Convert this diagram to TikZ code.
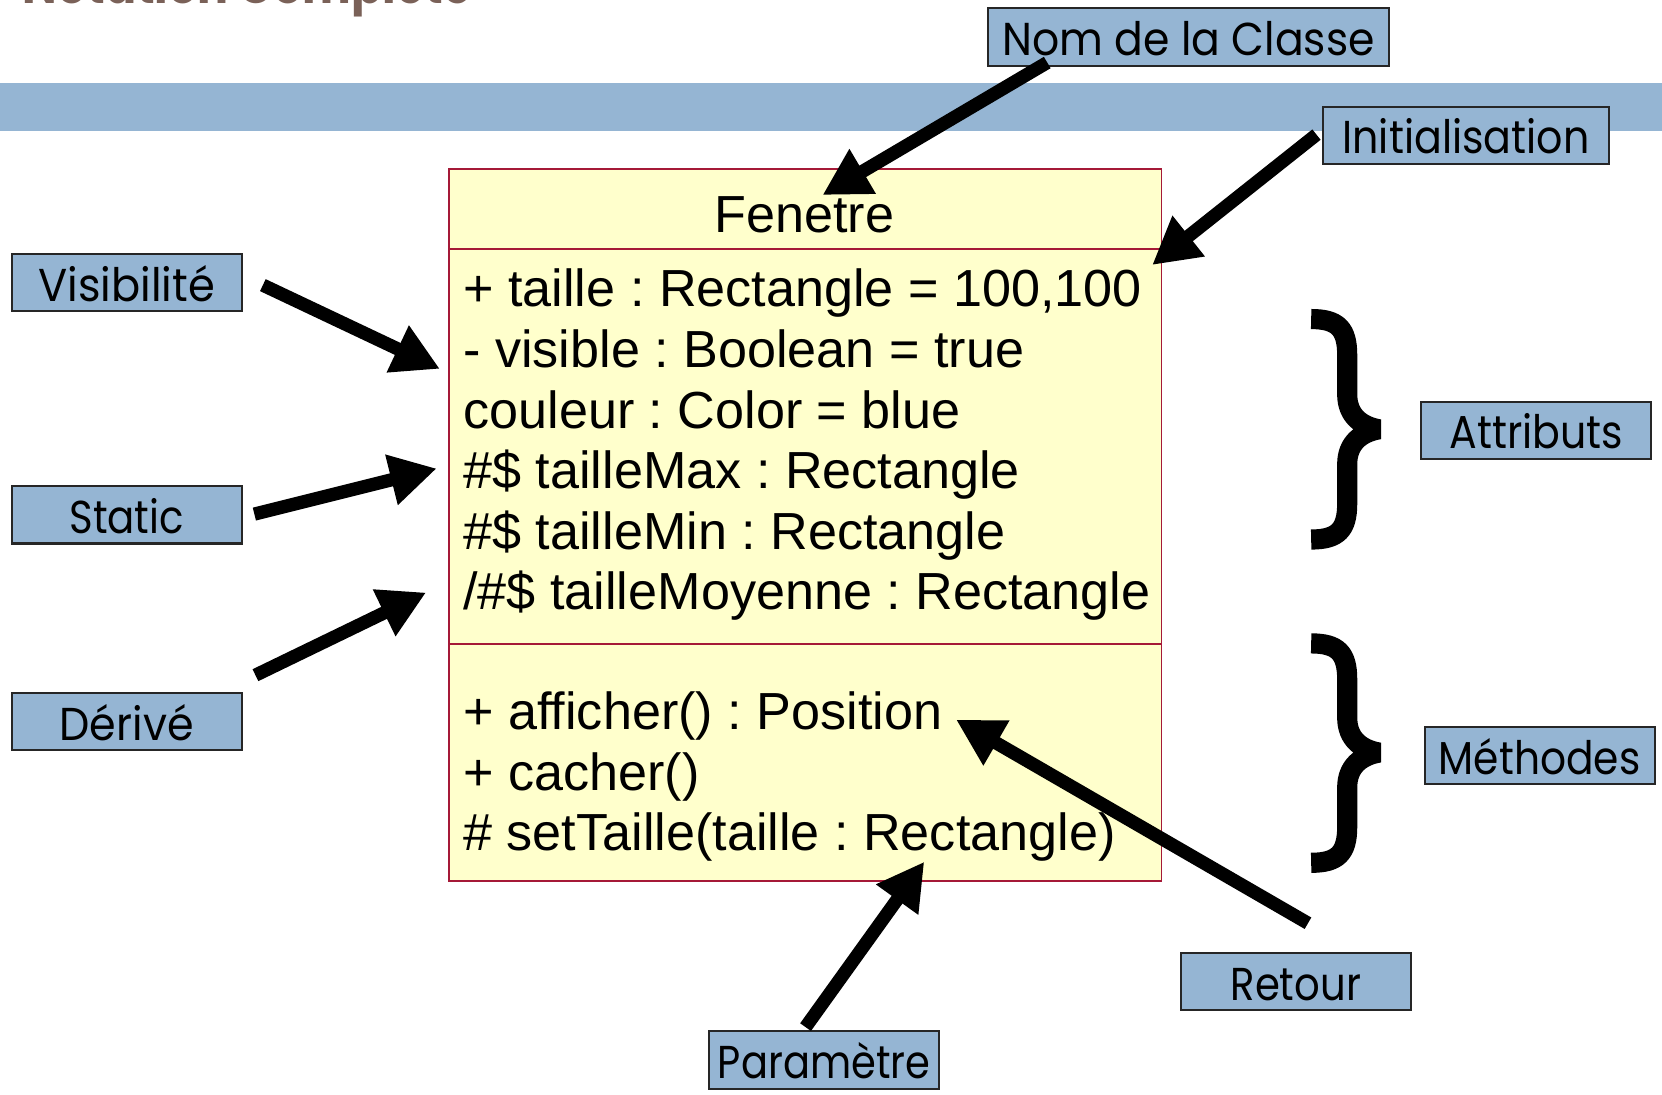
\documentclass[tikz,border=0pt]{standalone}
\usepackage{fontspec}
\usepackage{graphicx}
\setmainfont{Liberation Sans}
\newfontfamily\labfont{Poppins}
\usetikzlibrary{arrows.meta}
\definecolor{bandblue}{RGB}{149,181,211}
\definecolor{classfill}{RGB}{255,255,204}
\definecolor{classline}{RGB}{165,25,55}
\definecolor{titlecol}{RGB}{122,97,88}
\newcommand\fitw[2]{\resizebox{#1pt}{\height}{#2}}
\frenchspacing
\begin{document}
\begin{tikzpicture}[x=1pt,y=-1pt,
  lbl/.style={draw=black!85, line width=2pt, fill=bandblue, inner sep=0pt,
    minimum width=217pt, text height=44.5pt, text depth=9.5pt, anchor=north west,
    font=\labfont\fontsize{43.5}{50}\selectfont},
  ptr/.style={line width=12.5pt, -{Triangle[length=44pt,width=46pt]}},
  brc/.style={line width=19pt, line join=bevel},
  attr/.style={anchor=base west, inner sep=0pt, font=\frenchspacing\fontsize{49.2}{57.2}\selectfont}]
\useasboundingbox (0,0) rectangle (1568,1033);
\fill[white] (0,0) rectangle (1568,1033);
% title fragment
\begin{scope}
\clip (0,0) rectangle (1568,1033);
\node[anchor=base west, inner sep=0pt, text=titlecol, font=\labfont\bfseries\fontsize{48}{54}\selectfont] (title) at (21,3.5) {\fitw{424}{Notation Complète}};
\end{scope}
% band
\fill[bandblue] (0,78) rectangle (1568,123.3);
% class box
\node[draw=classline, fill=classfill, line width=1.5pt, minimum width=672pt, minimum height=672pt, anchor=north west, inner sep=0pt] (cls) at (423,158.5) {};
\draw[classline, line width=1.5pt] (423,235) -- (1095,235);
\draw[classline, line width=1.5pt] (423,607.5) -- (1095,607.5);
\node[anchor=base, inner sep=0pt, font=\fontsize{49.2}{57.2}\selectfont] (cname) at (759,219.5) {Fenetre};
\node[attr] (a1) at (437,289.4) {+ taille : Rectangle = 100,100};
\node[attr] (a2) at (437,346.6) {- visible : Boolean = true};
\node[attr] (a3) at (437,403.8) {couleur : Color = blue};
\node[attr] (a4) at (437,461.0) {\#\$ tailleMax : Rectangle};
\node[attr] (a5) at (437,518.2) {\#\$ tailleMin : Rectangle};
\node[attr] (a6) at (437,575.4) {/\#\$ tailleMoyenne : Rectangle};
\node[attr] (m1) at (437,688.5) {+ afficher() : Position};
\node[attr] (m2) at (437,745.5) {+ cacher()};
\node[attr] (m3) at (437,802.5) {\# setTaille(taille : Rectangle)};
% labels
\node[lbl, minimum width=378.7pt] (nom) at (931,6.9) {\fitw{351}{Nom de la Classe}};
\node[lbl, minimum width=270pt] (init) at (1247,99.7) {\fitw{233}{Initialisation}};
\node[lbl] (vis) at (10,238.6) {\fitw{166.5}{Visibilité}};
\node[lbl] (sta) at (10,457.8) {\fitw{108}{Static}};
\node[lbl] (der) at (10,652.7) {\fitw{126.4}{Dérivé}};
\node[lbl] (attrib) at (1340,378) {\fitw{163.6}{Attributs}};
\node[lbl] (meth) at (1343,685) {\fitw{190}{Méthodes}};
\node[lbl] (ret) at (1113,898) {\fitw{123}{Retour}};
\node[lbl] (par) at (668,972) {\fitw{200.4}{Paramètre}};
% arrow ends
\coordinate (nomT) at (988,59);   \coordinate (nomH) at (776,184);
\coordinate (initT) at (1242,127); \coordinate (initH) at (1087,250);
\coordinate (visT) at (248,269);  \coordinate (visH) at (415,348);
\coordinate (staT) at (240,485);  \coordinate (staH) at (412,442);
\coordinate (derT) at (241,637);  \coordinate (derH) at (402,559);
\coordinate (retT) at (1234,871); \coordinate (retH) at (902,679);
\coordinate (parT) at (760,969);  \coordinate (parH) at (872,813);
\draw[ptr] (nomT) -- (nomH);
\draw[ptr] (initT) -- (initH);
\draw[ptr] (visT) -- (visH);
\draw[ptr] (staT) -- (staH);
\draw[ptr] (derT) -- (derH);
\draw[ptr] (retT) -- (retH);
\draw[ptr] (parT) -- (parH);
% braces
\draw[brc] (1237,301) .. controls (1262,301) and (1271,310) .. (1271,335) -- (1271,372)
  .. controls (1271,392) and (1284,402) .. (1301,405)
  .. controls (1284,408) and (1271,418) .. (1271,438) -- (1271,475)
  .. controls (1271,500) and (1262,509) .. (1237,509);
\draw[brc] (1237,607) .. controls (1262,607) and (1271,616) .. (1271,641) -- (1271,677)
  .. controls (1271,697) and (1284,707) .. (1301,710)
  .. controls (1284,713) and (1271,723) .. (1271,743) -- (1271,780)
  .. controls (1271,805) and (1262,814) .. (1237,814);
\end{tikzpicture}
\end{document}
